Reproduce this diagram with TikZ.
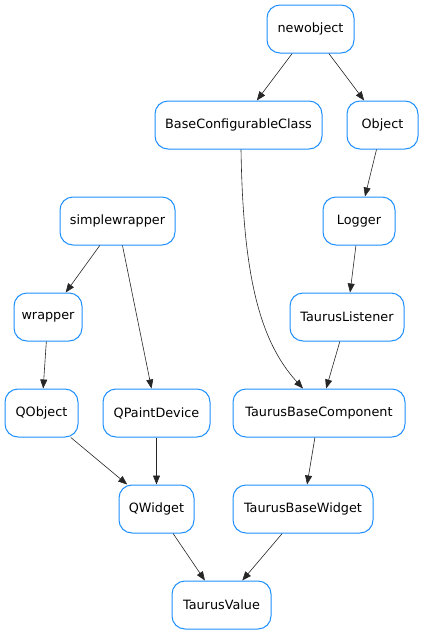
\documentclass[tikz,border=0pt]{standalone}
\usepackage{fontspec}
\setmainfont{DejaVu Sans}
\usetikzlibrary{arrows.meta}
\definecolor{boxblue}{RGB}{30,144,255}

\begin{document}
\begin{tikzpicture}[x=1pt, y=-1pt,
    box/.style={draw=boxblue, line width=1pt, rounded corners=13pt, fill=white,
        minimum height=48pt, inner sep=0pt, font=\fontsize{12.8}{14}\selectfont},
    edge/.style={draw=black!85, line width=0.6pt, -{Triangle[length=9pt,width=7pt]}}]
\useasboundingbox (0,0) rectangle (425,635);
\node[box, minimum width=87pt] (newobject) at (310.5,29) {newobject};
\node[box, minimum width=167pt] (bcc) at (238.5,125) {BaseConfigurableClass};
\node[box, minimum width=71pt] (object) at (382.5,125) {Object};
\node[box, minimum width=115pt] (simplewrapper) at (117.5,221) {simplewrapper};
\node[box, minimum width=72pt] (logger) at (359,221) {Logger};
\node[box, minimum width=68pt] (wrapper) at (48,317) {wrapper};
\node[box, minimum width=114pt] (listener) at (347,317) {TaurusListener};
\node[box, minimum width=73pt] (qobject) at (41.5,413) {QObject};
\node[box, minimum width=107pt] (qpaint) at (156.5,413) {QPaintDevice};
\node[box, minimum width=172pt] (tbc) at (319,413) {TaurusBaseComponent};
\node[box, minimum width=75pt] (qwidget) at (156.5,509) {QWidget};
\node[box, minimum width=140pt] (tbw) at (303,509) {TaurusBaseWidget};
\node[box, minimum width=99pt] (value) at (221.5,605) {TaurusValue};

\draw[edge] (newobject) -- (bcc);
\draw[edge] (newobject) -- (object);
\draw[edge] (object) -- (logger);
\draw[edge] (logger) -- (listener);
\draw[edge] ([xshift=2.5pt]bcc.south) .. controls +(2,121) and +(-45,-49) .. ([xshift=-16pt]tbc.north);
\draw[edge] (listener) -- (tbc);
\draw[edge] (simplewrapper) -- (wrapper);
\draw[edge] (simplewrapper) -- (qpaint);
\draw[edge] (wrapper) -- (qobject);
\draw[edge] (qobject) -- (qwidget);
\draw[edge] (qpaint) -- (qwidget);
\draw[edge] (tbc) -- (tbw);
\draw[edge] (qwidget) -- (value);
\draw[edge] (tbw) -- (value);
\end{tikzpicture}
\end{document}
